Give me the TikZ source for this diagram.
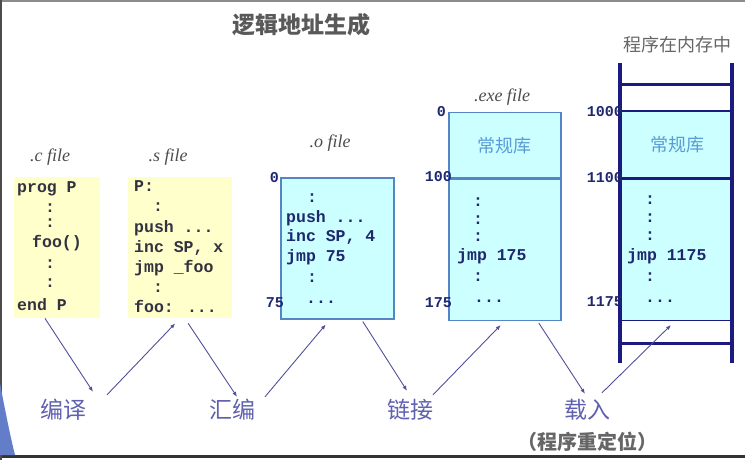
\documentclass[tikz,border=0pt]{standalone}
\usepackage{fontspec}
\setmainfont{Liberation Serif}
\newfontfamily\cjk{Noto Sans CJK SC}
\newfontfamily\codefont{Liberation Mono}
\usetikzlibrary{arrows.meta,positioning}
\definecolor{navy}{RGB}{26,26,128}
\definecolor{codeink}{RGB}{30,40,110}
\definecolor{srcink}{RGB}{50,50,64}
\definecolor{stageink}{RGB}{96,96,176}
\definecolor{flowink}{RGB}{80,80,152}
\definecolor{libink}{RGB}{91,155,213}
\definecolor{cyanfill}{RGB}{204,255,255}
\definecolor{yellowfill}{RGB}{255,255,204}
\definecolor{cyanedge}{RGB}{85,133,197}
\definecolor{cornerblue}{RGB}{100,125,200}
\newcommand{\codedots}{...}
\tikzset{
  srcbox/.style={fill=yellowfill, inner sep=0pt, anchor=north west},   % source files
  objbox/.style={draw=cyanedge, line width=1.5pt, fill=cyanfill, inner sep=0pt, anchor=north west},
  memcell/.style={draw=navy, fill=cyanfill, inner sep=0pt, anchor=north west},
  memwall/.style={draw=navy, line width=3.5pt},
  codeline/.style={anchor=west, inner sep=0pt, text height=11pt, text depth=3pt,
    font=\codefont\bfseries\fontsize{16.5}{18}\selectfont},
  addr/.style={anchor=east, inner sep=0pt, text=codeink,
    font=\codefont\bfseries\fontsize{15}{15}\selectfont},
  filename/.style={inner sep=0pt, text=black!70, font=\itshape\fontsize{18}{18}\selectfont},
  stagelabel/.style={inner sep=0pt, text height=20pt, text depth=3pt, text=stageink,
    font=\cjk\fontsize{23}{23}\selectfont},
  libtext/.style={text=libink, font=\cjk\fontsize{18}{18}\selectfont},
  flow/.style={-{Latex[length=5pt,width=4pt]}, draw=flowink, line width=0.9pt}
}
\newcommand{\CodeLines}[3]{% #1=prefix, #2=colour, #3="x/y/text,..."
  \foreach \x/\y/\txt [count=\i] in {#3}{%
    \node[codeline, text=#2] (#1-\i) at (\x,\y) {\txt};
  }%
}

\begin{document}
\begin{tikzpicture}[x=1pt, y=-1pt]
  \useasboundingbox (0,0) rectangle (745,460);
  % slide frame
  \draw[black!45, line width=2pt] (0,1) -- (745,1);
  \draw[black!80, line width=3pt] (0,456) -- (745,456);
  \draw[black!70, line width=2.5pt] (1.2,0) -- (1.2,460);
  \fill[cornerblue] (0,383) .. controls (5,410) and (10,435) .. (15,455) -- (0,455) -- cycle;

  % titles
  \node[inner sep=0pt, text=black!65, font=\cjk\bfseries\fontsize{23}{23}\selectfont] (title) at (301,25) {逻辑地址生成};
  \node[inner sep=0pt, text=black!60, font=\cjk\fontsize{18}{18}\selectfont] (memtitle) at (677,45) {程序在内存中};

  % .c file
  \node[filename] (cname) at (50,157) {.c file};
  \node[srcbox, minimum width=86pt, minimum height=141pt] (cbox) at (14,177) {};
  \CodeLines{c}{srcink}{17/188/prog P, 45/208/:, 45/223/:, 32/243/foo(), 45/264/:, 45/283/:, 17/306/end P}

  % .s file
  \node[filename] (sname) at (168,157) {.s file};
  \node[srcbox, minimum width=104pt, minimum height=141pt] (sbox) at (128,177) {};
  \CodeLines{s}{srcink}{134/187/P:, 153/207/:, 134/228/push \codedots, 134/248/{inc SP, x}, 134/268/jmp \_foo, 153/288/:, 134/308/foo: \codedots}

  % .o file
  \node[filename] (oname) at (330,143) {.o file};
  \node[objbox, minimum width=113pt, minimum height=141pt] (obox) at (280,177) {};
  \CodeLines{o}{codeink}{307/198/:, 286/218/push \codedots, 286/237/{inc SP, 4}, 286/257/jmp 75, 307/278/:, 306/299/\codedots}
  \node[addr] (o-top) at (279,178) {0};
  \node[addr] (o-end) at (284,303) {75};

  % .exe file
  \node[filename] (exename) at (502,97) {.exe file};
  \node[objbox, minimum width=112pt, minimum height=65pt, libtext] (exelib) at (448,112) {常规库};
  \node[objbox, minimum width=112pt, minimum height=141pt, below=0pt of exelib] (execode) {};
  \CodeLines{exe}{codeink}{473/202/:, 473/220/:, 473/237/:, 457/256/jmp 175, 473/277/:, 474/298/\codedots}
  \node[addr] (exe-top) at (446,112) {0};
  \node[addr] (exe-lib) at (452,177) {100};
  \node[addr] (exe-end) at (452,303) {175};

  % program in memory
  \node[memcell, line width=2pt, minimum width=112pt, minimum height=67pt, libtext] (memlib) at (620,110) {常规库};
  \node[memcell, line width=1pt, minimum width=112pt, minimum height=141pt, below=0pt of memlib] (memcode) {};
  \CodeLines{mem}{codeink}{645/200/:, 645/218/:, 645/236/:, 627/256/jmp 1175, 645/277/:, 645/298/\codedots}
  \draw[memwall] (620,63) -- (620,363);
  \draw[memwall] (732,63) -- (732,363);
  \draw[navy, line width=3pt] (620,85) -- (732,85);
  \draw[navy, line width=3pt] (620,343) -- (732,343);
  \node[addr] (mem-top) at (623,112) {1000};
  \node[addr] (mem-lib) at (623,178) {1100};
  \node[addr] (mem-end) at (623,302) {1175};

  % stages
  \node[stagelabel] (bianyi) at (63,410) {编译};
  \node[stagelabel] (huibian) at (232,410) {汇编};
  \node[stagelabel] (lianjie) at (410,410) {链接};
  \node[stagelabel] (zairu) at (587,410) {载入};
  \node[inner sep=0pt, text=black!60, font=\cjk\bfseries\fontsize{20}{20}\selectfont, below=10pt of zairu] (reloc) {（程序重定位）};

  % flow arrows
  \draw[flow] ([xshift=31pt]cbox.south west) -- ([xshift=30pt,yshift=6.5pt]bianyi.north);
  \draw[flow] ([xshift=44pt,yshift=3.5pt]bianyi.north) -- ([xshift=-5pt,yshift=-5pt]sbox.south);
  \draw[flow] ([xshift=8pt,yshift=-5pt]sbox.south) -- ([xshift=5pt,yshift=1.5pt]huibian.north);
  \draw[flow] ([xshift=33pt,yshift=1.5pt]huibian.north) -- ([xshift=-11.5pt,yshift=-5pt]obox.south);
  \draw[flow] ([xshift=25.5pt,yshift=-2pt]obox.south) -- ([xshift=-3pt,yshift=7.5pt]lianjie.north);
  \draw[flow] ([xshift=23pt,yshift=3.5pt]lianjie.north) -- ([xshift=-4pt,yshift=-4pt]execode.south);
  \draw[flow] ([xshift=34pt,yshift=-2pt]execode.south) -- ([xshift=-2pt,yshift=4.5pt]zairu.north);
  \draw[flow] ([xshift=15pt,yshift=5.5pt]zairu.north) -- ([xshift=-6pt,yshift=-4pt]memcode.south);
\end{tikzpicture}
\end{document}
